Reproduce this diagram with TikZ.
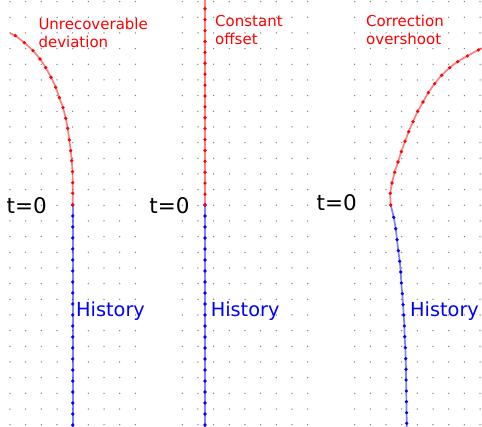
\documentclass[tikz,border=0pt]{standalone}
\usepackage{fontspec}
\setmainfont{DejaVu Sans}
\usetikzlibrary{positioning}
\tikzset{
  griddot/.style={
    fill=black!50
  },
  past/.style={
    draw=blue,
    line width=1.7pt,
    draw opacity=0.5
  },
  future/.style={
    draw=red,
    line width=1.7pt,
    draw opacity=0.5
  },
  tzero/.style={
    anchor=base west,
    inner sep=0pt,
    font=\fontsize{21.5}{26}\selectfont
  },
  hist/.style={
    anchor=base west,
    inner sep=0pt,
    text=blue,
    font=\fontsize{19.3}{23}\selectfont
  },
  note/.style={
    anchor=base west,
    inner sep=0pt,
    align=left,
    text=red,
    font=\fontsize{15}{18.7}\selectfont
  }
}

\begin{document}
\begin{tikzpicture}[x=1pt,y=-1pt]
  \useasboundingbox (0,0) rectangle (482,427);
  % dot grid, one block per panel
  \foreach \px in {10,182.3,354.7}{
    \foreach \i in {0,...,8}{
      \foreach \j in {-13,...,14}{
        \fill[griddot] (\px+15.67*\i,205.3+15.67*\j) circle (0.75pt);}}}

  % panel 1
  \draw[past] (72.7,205) -- (72.7,427);
  \draw[future] plot[smooth] coordinates {(72.7,205) (72.7,193.3) (72.7,182.7)
    (72.5,171.7) (71.7,160.7) (70.7,150.7) (69.3,140) (67.7,128.3) (65.7,118.3)
    (63,107.7) (59.3,97.7) (55.7,87.3) (51,77.3) (45.7,67.7) (40,59) (33,50.7)
    (24.3,42.7) (15.3,35.7) (10,33.3)};
  \foreach \n in {0,...,20}{
    \fill[blue] (72.7,205+11*\n) circle (1.8pt);}
  \foreach \x/\y in {72.7/205,72.7/193.3,72.7/182.7,72.5/171.7,71.7/160.7,70.7/150.7,
    69.3/140,67.7/128.3,65.7/118.3,63/107.7,59.3/97.7,55.7/87.3,51/77.3,45.7/67.7,
    40/59,33/50.7,24.3/42.7,15.3/35.7}{
    \fill[red] (\x,\y) circle (1.8pt);}

  % panel 2
  \draw[past] (205,205) -- (205,427);
  \draw[future] (205,205) -- (205,0);
  \foreach \n in {0,...,20}{
    \fill[blue] (205,205+11*\n) circle (1.8pt);}
  \foreach \n in {0,...,18}{
    \fill[red] (205,205-10.9*\n) circle (1.8pt);}

  % panel 3
  \draw[past] plot[smooth] coordinates {(390.7,205) (393.7,217.3) (395.7,228.7)
    (397,239.7) (398.3,250.7) (399.7,261.3) (400.7,272) (401.3,283) (402.3,293.7)
    (403,304.7) (403.7,315) (404.3,326) (404.7,336.7) (405.3,347.7) (405.7,358.7)
    (406,369.3) (406.1,380) (406.3,391) (406.4,401.7) (406.6,412.7) (406.7,423.3)
    (406.8,427)};
  \draw[future] plot[smooth] coordinates {(390.7,205) (390.3,193.3) (392,183)
    (394.7,172.3) (398,162) (401.3,151.7) (405,141.3) (408.7,131.7) (413,121.7)
    (417.7,111.3) (423,102) (428.3,92.7) (434.7,83.7) (441.7,75.3) (449.7,67.7)
    (457.7,61.7) (467.3,56) (478.3,50) (482,48.3)};
  \foreach \x/\y in {393.7/217.3,395.7/228.7,397/239.7,398.3/250.7,399.7/261.3,
    400.7/272,401.3/283,402.3/293.7,403/304.7,403.7/315,404.3/326,404.7/336.7,
    405.3/347.7,405.7/358.7,406/369.3,406.1/380,406.3/391,406.4/401.7,406.6/412.7,
    406.7/423.3}{
    \fill[blue] (\x,\y) circle (1.8pt);}
  \foreach \x/\y in {390.7/205,390.3/193.3,392/183,394.7/172.3,398/162,401.3/151.7,
    405/141.3,408.7/131.7,413/121.7,417.7/111.3,423/102,428.3/92.7,434.7/83.7,
    441.7/75.3,449.7/67.7,457.7/61.7,467.3/56,478.3/50}{
    \fill[red] (\x,\y) circle (1.8pt);}

  % labels
  \node[tzero] (tzeroA) at (6.5,214) {t=0};
  \node[tzero] (tzeroB) at (149.2,214) {t=0};
  \node[tzero] (tzeroC) at (316.5,210.7) {t=0};
  \node[hist] (histA) at (76,317) {History};
  \node[hist] (histB) at (210.6,317) {History};
  \node[hist] (histC) at (410,317) {History};
  % base anchor sits on the last line
  \node[note] (noteA) at (38.3,47.8) {Unrecoverable\\deviation};
  \node[note] (noteB) at (215,45) {Constant\\offset};
  \node[note] (noteC) at (366,45) {Correction\\overshoot};
\end{tikzpicture}
\end{document}
